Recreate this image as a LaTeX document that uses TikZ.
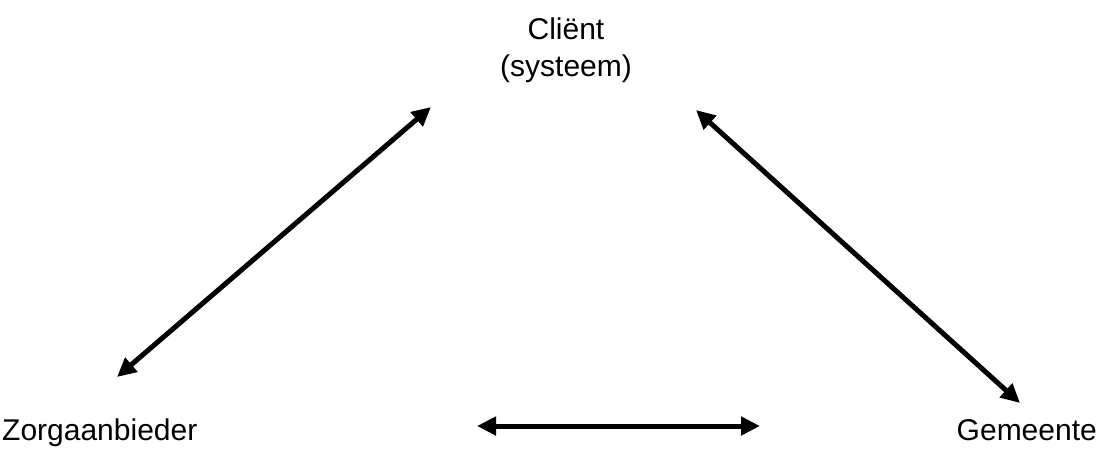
\documentclass[tikz,border=0pt]{standalone}
\usepackage{fontspec}
\setmainfont{Liberation Sans}
\usetikzlibrary{arrows.meta}
\begin{document}
\begin{tikzpicture}[x=1pt,y=-1pt,
  lbl/.style={font=\fontsize{30}{37}\selectfont, inner sep=0pt, align=center},
  link/.style={line width=5pt, {Triangle[length=19pt,width=18pt]}-{Triangle[length=19pt,width=18pt]}}]
\useasboundingbox (0,0) rectangle (1099,448);
\node[lbl, anchor=base] (client) at (566,76) {Cliënt\\(systeem)};
\node[lbl, anchor=base west] (zorg) at (2,440) {Zorgaanbieder};
\node[lbl, anchor=base east] (gem) at (1097,440) {Gemeente};
\coordinate (a1) at (117,377);
\coordinate (a2) at (431,107);
\coordinate (b1) at (696,110);
\coordinate (b2) at (1020,403);
\coordinate (c1) at (477,426);
\coordinate (c2) at (760,426);
\draw[link] (a1) -- (a2);
\draw[link] (b1) -- (b2);
\draw[link] (c1) -- (c2);
\end{tikzpicture}
\end{document}
